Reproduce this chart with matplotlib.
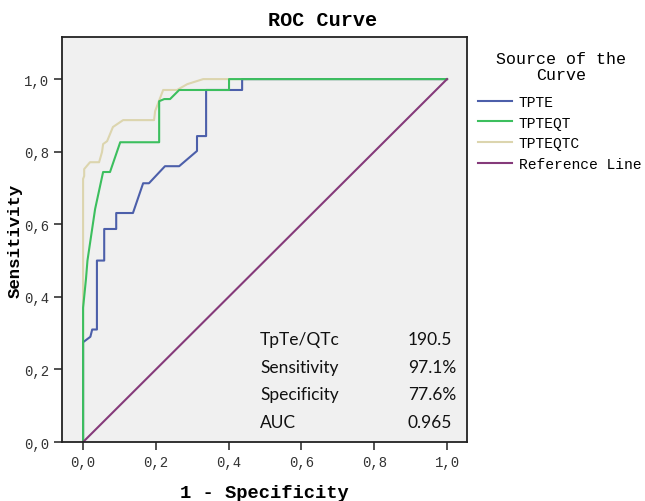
import matplotlib
matplotlib.use("Agg")
import matplotlib.pyplot as plt

# ROC points (1 - specificity, sensitivity)
tpte_x = [0, 0, 0.02, 0.025, 0.038, 0.038, 0.058, 0.058, 0.091, 0.091, 0.137,
          0.165, 0.181, 0.225, 0.264, 0.313, 0.313, 0.338, 0.338, 0.437, 0.437, 1.0]
tpte_y = [0, 0.275, 0.29, 0.31, 0.31, 0.50, 0.50, 0.587, 0.587, 0.631, 0.631,
          0.713, 0.713, 0.76, 0.76, 0.802, 0.843, 0.843, 0.97, 0.97, 1.0, 1.0]

tpteqt_x = [0, 0, 0.008, 0.012, 0.033, 0.055, 0.074, 0.088, 0.102, 0.209, 0.209,
            0.223, 0.239, 0.264, 0.401, 0.401, 1.0]
tpteqt_y = [0, 0.37, 0.45, 0.50, 0.642, 0.744, 0.744, 0.785, 0.826, 0.826, 0.939,
            0.945, 0.945, 0.97, 0.97, 1.0, 1.0]

tpteqtc_x = [0, 0, 0.003, 0.003, 0.019, 0.044, 0.052, 0.055, 0.066, 0.082, 0.110,
             0.195, 0.198, 0.220, 0.258, 0.286, 0.330, 1.0]
tpteqtc_y = [0, 0.725, 0.733, 0.752, 0.771, 0.771, 0.799, 0.821, 0.829, 0.868, 0.887,
             0.887, 0.912, 0.97, 0.97, 0.986, 1.0, 1.0]

ref_x = [0, 1]
ref_y = [0, 1]

series_names = ["TPTE", "TPTEQT", "TPTEQTC", "Reference Line"]
colors = ["#4c5faa", "#3cbf5e", "#dcd5ae", "#853a7a"]

stat_labels = ["TpTe/QTc", "Sensitivity", "Specificity", "AUC"]
stat_values = ["190.5", "97.1%", "77.6%", "0.965"]

ticks = [0, 0.2, 0.4, 0.6, 0.8, 1.0]
tick_labels = ["0,0", "0,2", "0,4", "0,6", "0,8", "1,0"]

mono = "Liberation Mono"

fig = plt.figure(figsize=(6.45, 5.02), dpi=100)
ax = fig.add_axes([0.0961, 0.1175, 0.628, 0.8068])
ax.set_facecolor("#f0f0f0")

lines = []
for xs, ys, c in zip([tpte_x, tpteqt_x, tpteqtc_x, ref_x],
                     [tpte_y, tpteqt_y, tpteqtc_y, ref_y], colors):
    ln, = ax.plot(xs, ys, color=c, lw=1.5)
    lines.append(ln)
# beige under the others, like the reference
lines[2].set_zorder(1.5)

ax.set_xlim(-0.058, 1.055)
ax.set_ylim(0, 1.116)
ax.set_xticks(ticks)
ax.set_xticklabels(tick_labels)
ax.set_yticks(ticks)
ax.set_yticklabels(tick_labels)
ax.tick_params(direction="out", length=6, width=1.2, color="#333333",
               labelsize=10, labelcolor="#333333")
for lab in ax.get_xticklabels() + ax.get_yticklabels():
    lab.set_family(mono)
for sp in ax.spines.values():
    sp.set_color("#222222")
    sp.set_linewidth(1.3)

ax.set_xlabel("1 - Specificity", family=mono, fontweight="bold", fontsize=13.5, labelpad=11)
ax.set_ylabel("Sensitivity", family=mono, fontweight="bold", fontsize=12.5, labelpad=1)
fig.text(0.5, 1 - 20 / 502, "ROC Curve", family=mono, fontweight="bold", fontsize=14.5,
         ha="center", va="center")

# stats box text
for i, (lab, val) in enumerate(zip(stat_labels, stat_values)):
    ypix = 340 + i * 27.7
    fig.text(260 / 645, 1 - ypix / 502, lab, family="Lato", fontsize=12.5,
             ha="left", va="center", color="#111111")
    fig.text(408 / 645, 1 - ypix / 502, val, family="Lato", fontsize=12.5,
             ha="left", va="center", color="#111111")

# legend title as separate text so the gap to the entries can match
fig.text(561 / 645, 1 - 60 / 502, "Source of the", family=mono, fontsize=12,
         ha="center", va="center")
fig.text(561 / 645, 1 - 75 / 502, "Curve", family=mono, fontsize=12,
         ha="center", va="center")
leg = ax.legend(lines, series_names, loc="upper left",
                bbox_to_anchor=(478 / 645, 1 - 96 / 502), bbox_transform=fig.transFigure,
                frameon=False, handlelength=2.3,
                handletextpad=0.5, labelspacing=0.45, borderaxespad=0, borderpad=0,
                prop={"family": mono, "size": 10.5})

fig.savefig("out.png", dpi=100)
